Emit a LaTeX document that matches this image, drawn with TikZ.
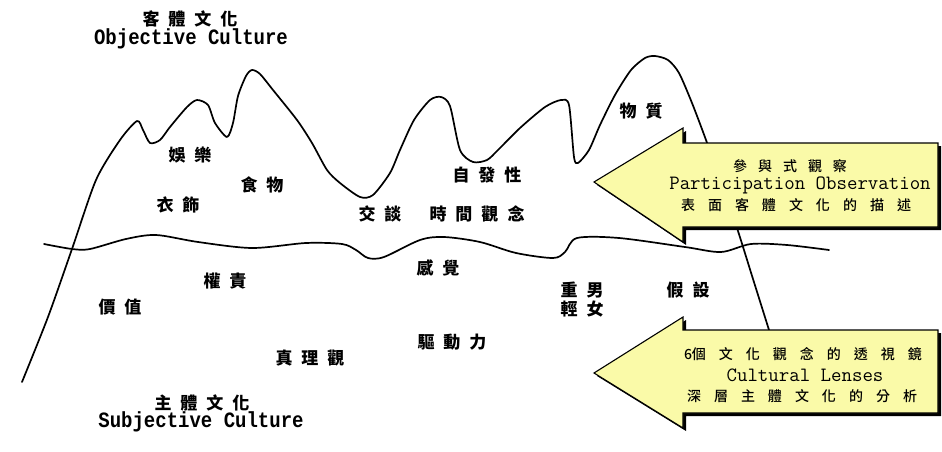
\documentclass[tikz,border=0pt]{standalone}
\usepackage{fontspec}
\usepackage{graphicx}
\IfFontExistsTF{Noto Sans CJK TC Black}
  {\newfontfamily\cjkheavy{Noto Sans CJK TC Black}}
  {\newfontfamily\cjkheavy{Noto Sans CJK TC Bold}[FakeBold=2.5]}
\IfFontExistsTF{Noto Sans CJK TC Medium}
  {\newfontfamily\cjkmid{Noto Sans CJK TC Medium}}
  {\newfontfamily\cjkmid{Noto Sans CJK TC}[FakeBold=0.8]}
\newfontfamily\monof{Liberation Mono}
\definecolor{arrowyellow}{RGB}{250,250,168}
\newcommand\hgap{\hspace{9pt}}
\newcommand\agap{\hspace{11pt}}
\newcommand\bgap{\hspace{13pt}}
\begin{document}
\begin{tikzpicture}[x=1pt,y=-1pt,
  contour/.style={line width=1.7pt, black, line join=round, line cap=round},
  lbl/.style={font=\cjkheavy\fontsize{17}{17}\selectfont, inner sep=0pt},
  arrowtxt/.style={font=\cjkmid\fontsize{14}{14}\selectfont, inner sep=0pt},
  arrowen/.style={font=\ttfamily\fontsize{20.3}{20.3}\selectfont, inner sep=0pt},
  titleen/.style={font=\monof\bfseries\fontsize{19}{19}\selectfont, inner sep=0pt},
  arrowbody/.style={fill=arrowyellow, draw=black, line width=1.1pt, line join=miter},
  arrowshadow/.style={fill=black}
]
\useasboundingbox (0,0) rectangle (942,452);
\fill[white] (0,0) rectangle (942,452);

% mountain outline
\draw[contour] plot[smooth, tension=0.45] coordinates {
 (22,382) (48,317) (72,249) (96,180) (120,140) (137,121) (143,130) (150,143)
 (160,140) (170,127) (187,107) (197,100) (208,105) (215,123) (227,137)
 (233,123) (238,96) (246,76) (252,70) (260,74) (273,90) (297,120) (312,143)
 (327,170) (340,183) (360,197) (373,195) (390,173) (400,150) (414,120)
 (430,100) (441,97) (450,106) (460,150) (473,162) (487,160) (498,150)
 (520,128) (545,107) (561,100) (569,105) (574,157) (578,163) (589,150)
 (600,125) (615,95) (631,70) (645,58) (655,56) (668,60) (679,73) (692,103)
 (706,140) (722,185) (737,228) (753,279) (769,330)};

% horizon line
\draw[contour] plot[smooth, tension=0.5] coordinates {
 (44,244) (72,249) (90,249) (126,239) (156,235) (198,242) (252,248)
 (306,243) (342,244) (356,250) (368,258) (384,257) (420,240) (444,237)
 (480,242) (516,253) (553,258) (565,252) (577,238) (619,238) (685,247)
 (721,252) (751,244) (787,245) (829,250)};

% upper arrow
\fill[arrowshadow] (941,146) -- (686,146) -- (686,131) -- (597,185) -- (686,245) -- (686,230) -- (941,230) -- cycle;
\draw[arrowbody] (938,143) -- (683,143) -- (683,128) -- (594,182) -- (683,242) -- (683,227) -- (938,227) -- cycle;

% lower arrow
\fill[arrowshadow] (941,333) -- (686,333) -- (686,320) -- (597,376) -- (686,431) -- (686,416) -- (941,416) -- cycle;
\draw[arrowbody] (938,330) -- (683,330) -- (683,317) -- (594,373) -- (683,428) -- (683,413) -- (938,413) -- cycle;

% titles
\node[lbl] (objzh) at (190,19) {客\hgap 體\hgap 文\hgap 化};
\node[titleen] (objen) at (191,39) {\scalebox{1}[1.15]{Objective Culture}};
\node[lbl] (subzh) at (202,403) {主\hgap 體\hgap 文\hgap 化};
\node[titleen] (suben) at (201,422) {\scalebox{1}[1.15]{Subjective Culture}};

% objective culture labels
\node[lbl] (yule) at (190,155) {娛\hgap 樂};
\node[lbl] (shiwu) at (262,185) {食\hgap 物};
\node[lbl] (yishi) at (178,205) {衣\hgap 飾};
\node[lbl] (zifa) at (487,175) {自\hgap 發\hgap 性};
\node[lbl] (jiaotan) at (380,214) {交\hgap 談};
\node[lbl] (shijian) at (477,214) {時\hgap 間\hgap 觀\hgap 念};
\node[lbl] (wuzhi) at (641,111) {物\hgap 質};

% subjective culture labels
\node[lbl] (jiazhi) at (120,307) {價\hgap 值};
\node[lbl] (quanze) at (225,281) {權\hgap 責};
\node[lbl] (ganjue) at (438,268) {感\hgap 覺};
\node[lbl] (qudong) at (452,342) {驅\hgap 動\hgap 力};
\node[lbl] (zhenli) at (310,358) {真\hgap 理\hgap 觀};
\node[lbl] (zhongnan) at (582,290) {重\hgap 男};
\node[lbl] (qingnv) at (582,309) {輕\hgap 女};
\node[lbl] (jiashe) at (688,290) {假\hgap 設};

% upper arrow text
\node[arrowtxt] (canyu) at (790,166) {參\agap 與\agap 式\agap 觀\agap 察};
\node[arrowen] (partobs) at (800,185) {Participation Observation};
\node[arrowtxt] (biaomian) at (796,205) {表\bgap 面\bgap 客\bgap 體\bgap 文\bgap 化\bgap 的\bgap 描\bgap 述};

% lower arrow text
\node[arrowtxt] (liuge) at (803,354) {6個\bgap 文\bgap 化\bgap 觀\bgap 念\bgap 的\bgap 透\bgap 視\bgap 鏡};
\node[arrowen] (lenses) at (805,375) {Cultural Lenses};
\node[arrowtxt] (shenceng) at (802,396) {深\bgap 層\bgap 主\bgap 體\bgap 文\bgap 化\bgap 的\bgap 分\bgap 析};
\end{tikzpicture}
\end{document}
